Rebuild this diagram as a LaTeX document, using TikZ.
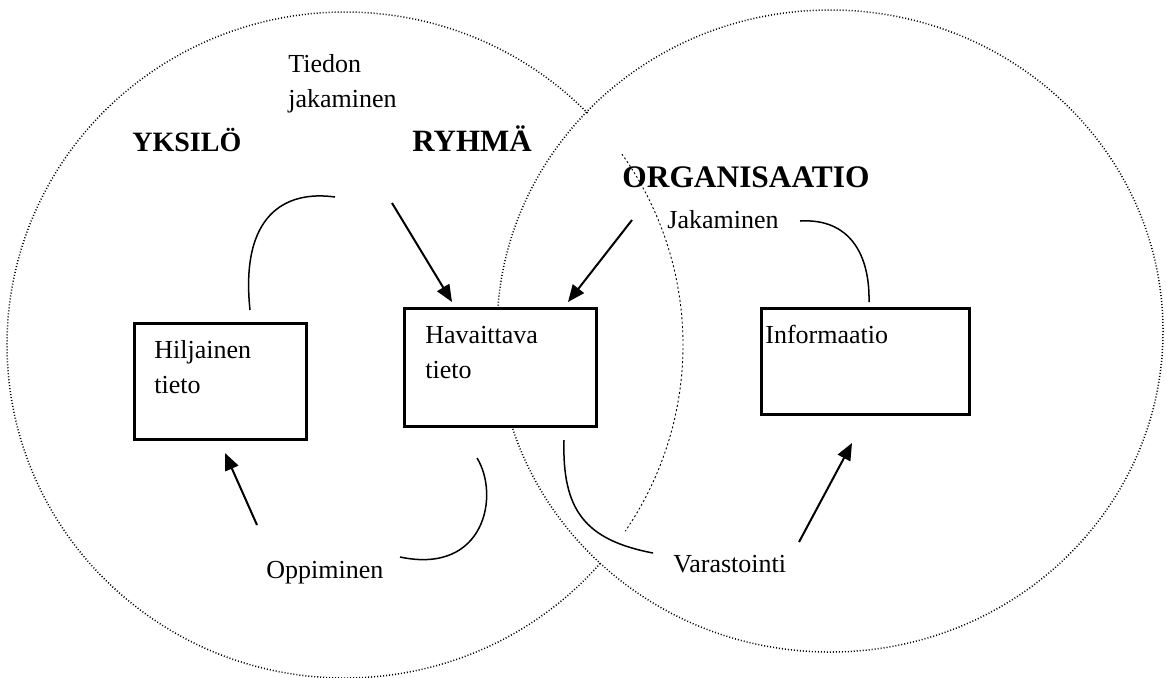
\documentclass[tikz,border=0pt]{standalone}
\usepackage{fontspec}
\setmainfont{Liberation Serif}
\usetikzlibrary{arrows.meta,calc}
\tikzset{
block/.style = {draw, fill=white, rectangle, line width=1.5pt, anchor=north west, inner sep=0pt},
txt/.style = {anchor=base west, inner sep=0pt, align=left, font=\fontsize{13}{17.5}\selectfont},
heading/.style = {anchor=base west, inner sep=0pt, font=\fontsize{15.5}{18}\selectfont\bfseries},
flow/.style = {-{Triangle[length=8.5pt,width=7pt]}, line width=1pt},
loop/.style = {line width=0.75pt},
circ/.style = {line width=0.75pt, dash pattern=on 0.5pt off 1pt}
}
\begin{document}
\begin{tikzpicture}[x=0.5pt, y=-0.5pt]
   \useasboundingbox (0,0) rectangle (1166,677);
   \draw[circ] (345,345) ++(41:338 and 333) arc[start angle=41, end angle=316, x radius=338, y radius=333];
   \draw[line width=0.45pt, dash pattern=on 1pt off 1.2pt] (345,345) ++(-35:338 and 333) arc[start angle=-35, end angle=34, x radius=338, y radius=333];
   \draw[circ] (830,331) ellipse [x radius=333, y radius=321];

   \node [block, minimum width=86pt, minimum height=58pt] (hiljainen) at (133,322) {};
   \node [block, minimum width=96pt, minimum height=59pt] (havaittava) at (403,307) {};
   \node [block, minimum width=104pt, minimum height=53pt] (informaatio) at (760,307) {};
   \node [txt] (hiljainen-txt) at (154,393) {Hiljainen\\tieto};
   \node [txt] (havaittava-txt) at (425,378) {Havaittava\\tieto};
   \node [txt] (informaatio-txt) at (765,343) {Informaatio};

   \node [heading, font=\fontsize{14}{18}\selectfont\bfseries] (yksilo) at (132,151) {YKSILÖ};
   \node [heading] (ryhma) at (412,151) {RYHMÄ};
   \node [heading, font=\fontsize{15.7}{18}\selectfont\bfseries] (organisaatio) at (622,187) {ORGANISAATIO};

   \node [txt] (tiedon) at (288,107) {Tiedon\\jakaminen};
   \node [txt] (jakaminen) at (667,228) {Jakaminen};
   \node [txt] (oppiminen) at (266,578) {Oppiminen};
   \node [txt] (varastointi) at (673,572) {Varastointi};

   \coordinate (tiedon-from) at (392,203);
   \coordinate (org-from) at (632,220);
   \coordinate (oppi-from) at (257,525);
   \coordinate (vara-from) at (799,542);
   \draw[flow] (tiedon-from) -- ($(havaittava.north west)+(49,-5)$);
   \draw[flow] (org-from) -- ($(havaittava.north west)+(165,-5)$);
   \draw[flow] (oppi-from) -- ($(hiljainen.south west)+(92,12)$);
   \draw[flow] (vara-from) -- ($(informaatio.south west)+(92,27)$);

   \coordinate (hil-up) at (250,310);
   \coordinate (tiedon-end) at (335,197);
   \coordinate (hav-down) at (477,458);
   \coordinate (oppi-end) at (400,557);
   \coordinate (hav-down2) at (564,440);
   \coordinate (vara-end) at (653,553);
   \coordinate (jak-end) at (800,221);
   \coordinate (inf-up) at (869,302);
   \draw[loop] (hil-up) .. controls (240,215) and (285,190) .. (tiedon-end);
   \draw[loop] (hav-down) .. controls (500,495) and (485,575) .. (oppi-end);
   \draw[loop] (hav-down2) .. controls (562,510) and (585,540) .. (vara-end);
   \draw[loop] (jak-end) .. controls (850,218) and (870,255) .. (inf-up);
\end{tikzpicture}
\end{document}
